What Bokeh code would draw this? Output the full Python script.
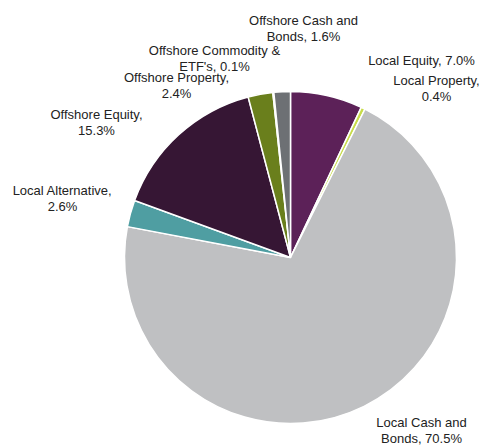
import math
from bokeh.plotting import figure
from bokeh.models import Range1d
from bokeh.core.properties import value
from bokeh.embed import file_html
from bokeh.resources import INLINE

categories = ["Local Equity", "Local Property", "Local Cash and Bonds", "Local Alternative",
              "Offshore Equity", "Offshore Property", "Offshore Commodity & ETF's",
              "Offshore Cash and Bonds"]
shares = [7.0, 0.4, 70.5, 2.6, 15.3, 2.4, 0.1, 1.6]
colors = ["#5C2158", "#C8DC4A", "#BFC0C2", "#4F9EA2", "#361634", "#6A7F1C", "#8A8C90", "#6D7074"]
label_line1 = ["Local Equity, 7.0%", "Local Property,", "Local Cash and", "Local Alternative,",
               "Offshore Equity,", "Offshore Property,", "Offshore Commodity &", "Offshore Cash and"]
label_line2 = ["", "0.4%", "Bonds, 70.5%", "2.6%", "15.3%", "2.4%", "ETF's, 0.1%", "Bonds, 1.6%"]

# layout (image pixel coords of first-line label centres)
label_pos = [(421, 60), (436, 80), (421, 422), (62, 190), (96, 114), (176, 77), (214, 50), (303, 20)]
W, H = 485, 445
cx, cy, r = 290, H - 257, 166
line_gap = 15.5

total = sum(shares)
starts, ends = [], []
cum = 0.0
for s in shares:
    starts.append(math.pi / 2 - 2 * math.pi * cum / total)
    cum += s
    ends.append(math.pi / 2 - 2 * math.pi * cum / total)

p = figure(width=W, height=H, output_backend="svg", toolbar_location=None,
           x_range=Range1d(0, W), y_range=Range1d(0, H),
           min_border=0, outline_line_color=None)
p.axis.visible = False
p.grid.visible = False
p.background_fill_color = "white"

p.wedge(x=[cx] * len(shares), y=[cy] * len(shares), radius=r,
        start_angle=starts, end_angle=ends, direction="clock",
        fill_color=colors, line_color="white", line_width=1.5)

tx, ty, tt = [], [], []
for (x, y), l1, l2 in zip(label_pos, label_line1, label_line2):
    tx.append(x)
    ty.append(H - y)
    tt.append(l1)
    if l2:
        tx.append(x)
        ty.append(H - (y + line_gap))
        tt.append(l2)

p.text(x=tx, y=ty, text=tt, text_align="center", text_baseline="middle",
       text_font=value("Liberation Sans"), text_font_size="13px", text_color="#222222")

open("out.html", "w").write(file_html(p, INLINE))
